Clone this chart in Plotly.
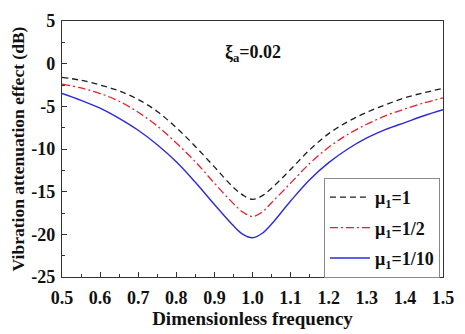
import plotly.graph_objects as go

# Dimensionless frequency grid and attenuation curves (dB)
freq = [0.5, 0.55, 0.6, 0.65, 0.7, 0.75, 0.8, 0.85, 0.9, 0.95, 0.975, 1.0,
        1.025, 1.05, 1.1, 1.15, 1.2, 1.25, 1.3, 1.35, 1.4, 1.45, 1.5]

att_mu_1 = [-1.6, -1.95, -2.5, -3.2, -4.2, -5.6, -7.5, -9.7, -12.1, -14.5, -15.4, -15.9,
            -15.5, -14.6, -12.4, -10.1, -8.2, -6.8, -5.7, -4.8, -4.0, -3.4, -2.9]
att_mu_half = [-2.4, -2.85, -3.5, -4.4, -5.7, -7.3, -9.3, -11.5, -14.0, -16.4, -17.4, -17.9,
               -17.4, -16.3, -14.0, -11.7, -9.8, -8.3, -7.1, -6.1, -5.3, -4.6, -4.0]
att_mu_tenth = [-3.5, -4.3, -5.2, -6.4, -7.8, -9.5, -11.5, -13.9, -16.5, -19.0, -20.0, -20.4,
                -19.9, -18.8, -16.1, -13.6, -11.6, -10.0, -8.7, -7.7, -6.9, -6.1, -5.4]

series_names = ["μ<sub>1</sub>=1", "μ<sub>1</sub>=1/2", "μ<sub>1</sub>=1/10"]
x_ticks = [0.5, 0.6, 0.7, 0.8, 0.9, 1.0, 1.1, 1.2, 1.3, 1.4, 1.5]
x_tick_labels = ["0.5", "0.6", "0.7", "0.8", "0.9", "1.0", "1.1", "1.2", "1.3", "1.4", "1.5"]
y_ticks = [5, 0, -5, -10, -15, -20, -25]

font_family = "Liberation Serif, Times New Roman, serif"

fig = go.Figure()
styles = [
    dict(color="#1e1e1e", width=1.3, dash="6px,4px"),
    dict(color="#e3232c", width=1.3, dash="8px,3px,2px,3px"),
    dict(color="#2b2bd6", width=1.4, dash="solid"),
]
for i, (ys, name, st) in enumerate(zip([att_mu_1, att_mu_half, att_mu_tenth], series_names, styles)):
    fig.add_trace(go.Scatter(x=freq, y=ys, mode="lines", name=f"<b>{name}</b>",
                             legendgroup=f"g{i}",
                             line=dict(shape="spline", smoothing=1.0, **st)))

fig.add_annotation(text="<b>ξ<sub>a</sub>=0.02</b>", x=1.0, y=1.2, xref="x", yref="y",
                   xanchor="center", yanchor="middle", showarrow=False,
                   font=dict(family=font_family, size=18, color="#111"))

axis_common = dict(
    showgrid=False, zeroline=False, showline=True, linecolor="#333", linewidth=1.2,
    mirror=True, ticks="inside", ticklen=5, tickwidth=1, tickcolor="#333",
    tickfont=dict(family=font_family, size=18, color="#111"),
)

fig.update_xaxes(range=[0.5, 1.5], tickvals=x_ticks, ticktext=[f"<b>{t}</b>" for t in x_tick_labels],
                 minor=dict(ticks="inside", ticklen=3, dtick=0.05, tickcolor="#333"),
                 ticklabelstandoff=4,
                 title=dict(text="<b>Dimensionless frequency</b>", standoff=2,
                            font=dict(family=font_family, size=19, color="#111")),
                 **axis_common)
fig.update_yaxes(range=[-25, 5], tickvals=y_ticks, ticktext=[f"<b>{t}</b>" for t in y_ticks],
                 minor=dict(ticks="inside", ticklen=3, dtick=2.5, tickcolor="#333"),
                 ticklabelstandoff=2,
                 title=dict(text="<b>Vibration attenuation effect (dB)</b>", standoff=2,
                            font=dict(family=font_family, size=17.5, color="#111")),
                 **axis_common)

fig.update_layout(
    width=465, height=334,
    margin=dict(l=62, r=11, t=12, b=56),
    plot_bgcolor="white", paper_bgcolor="white",
    legend=dict(x=0.992, y=0.387, xanchor="right", yanchor="top",
                bordercolor="#888", borderwidth=1, bgcolor="white",
                font=dict(family=font_family, size=18, color="#111"),
                tracegroupgap=4, itemwidth=40),
)

fig.write_html("out.html")
